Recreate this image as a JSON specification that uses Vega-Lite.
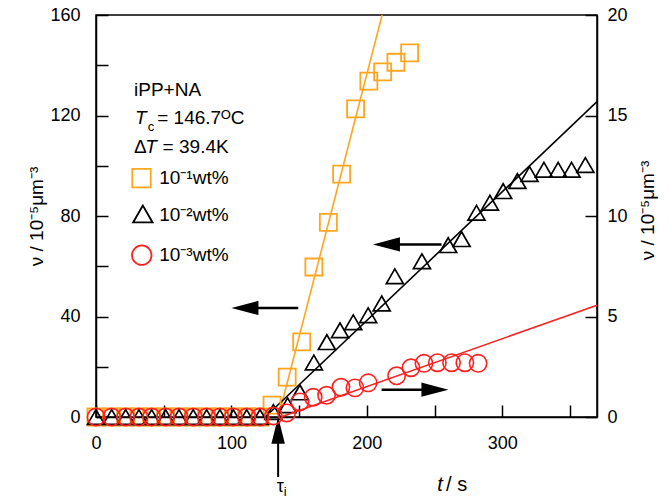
{
  "$schema": "https://vega.github.io/schema/vega-lite/v6.json",
  "width": 501,
  "height": 402,
  "autosize": {"type": "none"},
  "padding": {"left": 96, "top": 15, "right": 73, "bottom": 81},
  "config": {
    "font": "Liberation Sans",
    "view": {"stroke": "#000", "strokeWidth": 1.5},
    "axis": {
      "domainColor": "#000", "domainWidth": 1.5,
      "tickColor": "#000", "tickWidth": 1.5, "tickSize": -12,
      "labelColor": "#000", "labelFontSize": 18, "labelFont": "Liberation Sans",
      "labelFlush": false, "labelOverlap": false, "labelBound": false,
      "grid": false,
      "titleColor": "#000", "titleFont": "Liberation Sans", "titleFontSize": 19, "titleFontWeight": "normal"
    }
  },
  "encoding": {
    "x": {
      "field": "t", "type": "quantitative",
      "scale": {"domain": [0, 370], "nice": false, "zero": false},
      "axis": {
        "orient": "bottom",
        "values": [0, 50, 100, 150, 200, 250, 300, 350],
        "labelExpr": "datum.value % 100 === 0 ? datum.label : ''",
        "labelPadding": 29,
        "title": null
      }
    }
  },
  "layer": [
    {
      "encoding": {
        "y": {
          "field": "v", "type": "quantitative",
          "scale": {"domain": [0, 160], "nice": false, "zero": false},
          "axis": {
            "orient": "left",
            "values": [0, 20, 40, 60, 80, 100, 120, 140, 160],
            "labelExpr": "datum.value % 40 === 0 ? datum.label : ''",
            "labelPadding": 28,
            "title": "ν / 10⁻⁵μm⁻³",
            "titleX": -60, "titleY": 201, "titleAngle": -90,
            "titleAlign": "center", "titleBaseline": "middle"
          }
        }
      },
      "layer": [
        {
          "data": {"values": [{"t": 134.7, "v": 0}, {"t": 211.3, "v": 160}]},
          "mark": {"type": "line", "color": "#FFA51F", "strokeWidth": 1.6},
          "encoding": {}
        },
        {
          "data": {"values": [{"t": 125, "v": 0}, {"t": 370, "v": 125.5}]},
          "mark": {"type": "line", "color": "#000", "strokeWidth": 1.6},
          "encoding": {}
        },
        {
          "data": {"values": [
            {"t": 0, "v": 0}, {"t": 11.6, "v": 0}, {"t": 21.9, "v": 0}, {"t": 31.7, "v": 0}, {"t": 41.1, "v": 0},
            {"t": 51.4, "v": 0}, {"t": 61.3, "v": 0}, {"t": 71.8, "v": 0}, {"t": 81.7, "v": 0}, {"t": 91.5, "v": 0},
            {"t": 101.4, "v": 0}, {"t": 111.3, "v": 0}, {"t": 121.1, "v": 0},
            {"t": 130, "v": 4.7}, {"t": 141.2, "v": 15.9}, {"t": 151.9, "v": 29.9}, {"t": 160.9, "v": 59.7},
            {"t": 171.6, "v": 77.5}, {"t": 181.4, "v": 96.7}, {"t": 191.7, "v": 122.6}, {"t": 201.5, "v": 133.7},
            {"t": 211.7, "v": 137.4}, {"t": 221.5, "v": 141.2}, {"t": 231.6, "v": 144.9}
          ]},
          "mark": {"type": "point", "shape": "square", "filled": false, "color": "#FFA51F", "size": 289, "strokeWidth": 1.8, "opacity": 1}
        },
        {
          "data": {"values": [
            {"t": 0, "v": 0}, {"t": 11.6, "v": 0}, {"t": 21.9, "v": 0}, {"t": 31.7, "v": 0}, {"t": 41.1, "v": 0},
            {"t": 51.4, "v": 0}, {"t": 61.3, "v": 0}, {"t": 71.8, "v": 0}, {"t": 81.7, "v": 0}, {"t": 91.5, "v": 0},
            {"t": 101.4, "v": 0}, {"t": 111.3, "v": 0}, {"t": 121.1, "v": 0},
            {"t": 131, "v": 2.0}, {"t": 141.5, "v": 4.7}, {"t": 150.6, "v": 9.8}, {"t": 160.9, "v": 21.7},
            {"t": 170.5, "v": 29.8}, {"t": 180.2, "v": 34.5}, {"t": 190, "v": 37.7}, {"t": 201, "v": 40.5},
            {"t": 211, "v": 45.2}, {"t": 220.7, "v": 56}, {"t": 240.7, "v": 62}, {"t": 260.1, "v": 68.4},
            {"t": 270, "v": 70.8}, {"t": 281, "v": 81.3}, {"t": 290.9, "v": 85.3}, {"t": 300.7, "v": 89.9},
            {"t": 311.2, "v": 93.9}, {"t": 320.2, "v": 96.7}, {"t": 330.8, "v": 98.4}, {"t": 341.3, "v": 98.4},
            {"t": 351.2, "v": 98.4}, {"t": 361.4, "v": 100.3}
          ]},
          "mark": {"type": "point", "shape": "triangle-up", "filled": false, "color": "#000", "size": 289, "strokeWidth": 1.7, "opacity": 1}
        },
        {
          "data": {"values": [{"t": 110, "t2": 149.4, "v": 43.4}, {"t": 214.5, "t2": 255.2, "v": 68.7}]},
          "mark": {"type": "rule", "color": "#000", "strokeWidth": 2.5},
          "encoding": {"x2": {"field": "t2"}}
        },
        {
          "data": {"values": [{"t": 110, "v": 43.4}, {"t": 214.5, "v": 68.7}]},
          "mark": {"type": "point", "shape": "M-1,0L1,-0.53L1,0.53Z", "filled": true, "color": "#000", "size": 729, "opacity": 1, "strokeWidth": 0}
        },
        {
          "data": {"values": [{"t": 134.5, "v": -5.3, "v2": -23.9}]},
          "mark": {"type": "rule", "color": "#000", "strokeWidth": 2},
          "encoding": {"y2": {"field": "v2"}}
        },
        {
          "data": {"values": [{"t": 134.5, "v": -5.3}]},
          "mark": {"type": "point", "shape": "M0,-1L-0.5,1L0.5,1Z", "filled": true, "color": "#000", "size": 729, "opacity": 1, "strokeWidth": 0}
        },
        {
          "data": {"values": [{"t": 33.6, "v": 95.1}]},
          "mark": {"type": "point", "shape": "square", "filled": false, "color": "#FFA51F", "size": 340, "strokeWidth": 1.8, "opacity": 1}
        },
        {
          "data": {"values": [{"t": 34.6, "v": 80.8}]},
          "mark": {"type": "point", "shape": "triangle-up", "filled": false, "color": "#000", "size": 380, "strokeWidth": 1.8, "opacity": 1}
        },
        {
          "data": {"values": [{"t": 33.8, "v": 64.4}]},
          "mark": {"type": "point", "shape": "circle", "filled": false, "color": "#FF2020", "size": 380, "strokeWidth": 1.8, "opacity": 1}
        },
        {
          "data": {"values": [
            {"t": 28.1, "v": 130.1, "label": "iPP+NA"},
            {"t": 45.2, "v": 118.9, "label": "= 146.7ᴼC"},
            {"t": 28.1, "v": 107.4, "label": "Δ"},
            {"t": 49.2, "v": 107.4, "label": "= 39.4K"},
            {"t": 46.7, "v": 95.1, "label": "10⁻¹wt%"},
            {"t": 46.7, "v": 80.3, "label": "10⁻²wt%"},
            {"t": 46.7, "v": 64.4, "label": "10⁻³wt%"}
          ]},
          "mark": {"type": "text", "align": "left", "baseline": "middle", "fontSize": 19, "color": "#000"},
          "encoding": {"text": {"field": "label"}}
        },
        {
          "data": {"values": [{"t": 133.4, "v": -28, "label": "τ"}]},
          "mark": {"type": "text", "align": "left", "baseline": "middle", "fontSize": 18, "color": "#000"},
          "encoding": {"text": {"field": "label"}}
        },
        {
          "data": {"values": [
            {"t": 28.8, "v": 118.9, "label": "T"},
            {"t": 36.4, "v": 107.4, "label": "T"}
          ]},
          "mark": {"type": "text", "align": "left", "baseline": "middle", "fontSize": 19, "fontStyle": "italic", "color": "#000"},
          "encoding": {"text": {"field": "label"}}
        },
        {
          "data": {"values": [
            {"t": 38.3, "v": 115.6, "label": "c"},
            {"t": 138.6, "v": -30, "label": "i"}
          ]},
          "mark": {"type": "text", "align": "left", "baseline": "middle", "fontSize": 13, "color": "#000"},
          "encoding": {"text": {"field": "label"}}
        },
        {
          "data": {"values": [{"t": 254, "v": -27.2, "label": "t"}]},
          "mark": {"type": "text", "align": "center", "baseline": "middle", "fontSize": 20, "fontStyle": "italic", "color": "#000"},
          "encoding": {"text": {"field": "label"}}
        },
        {
          "data": {"values": [{"t": 258.5, "v": -27.2, "label": "/ s"}]},
          "mark": {"type": "text", "align": "left", "baseline": "middle", "fontSize": 20, "color": "#000"},
          "encoding": {"text": {"field": "label"}}
        }
      ]
    },
    {
      "encoding": {
        "y": {
          "field": "v", "type": "quantitative",
          "scale": {"domain": [0, 20], "nice": false, "zero": false},
          "axis": {
            "orient": "right",
            "values": [0, 5, 10, 15, 20],
            "labelPadding": 22,
            "title": "ν / 10⁻⁵μm⁻³",
            "titleX": 50, "titleY": 195, "titleAngle": -90,
            "titleAlign": "center", "titleBaseline": "middle"
          }
        }
      },
      "layer": [
        {
          "data": {"values": [{"t": 136.5, "v": 0}, {"t": 370, "v": 5.56}]},
          "mark": {"type": "line", "color": "#FF2020", "strokeWidth": 1.6},
          "encoding": {}
        },
        {
          "data": {"values": [
            {"t": 0, "v": 0}, {"t": 11.6, "v": 0}, {"t": 21.9, "v": 0}, {"t": 31.7, "v": 0}, {"t": 41.1, "v": 0},
            {"t": 51.4, "v": 0}, {"t": 61.3, "v": 0}, {"t": 71.8, "v": 0}, {"t": 81.7, "v": 0}, {"t": 91.5, "v": 0},
            {"t": 101.4, "v": 0}, {"t": 111.3, "v": 0}, {"t": 121.1, "v": 0},
            {"t": 131, "v": 0.05}, {"t": 140.8, "v": 0.2}, {"t": 150.6, "v": 0.75}, {"t": 160.4, "v": 0.98},
            {"t": 170.3, "v": 1.08}, {"t": 180.9, "v": 1.48}, {"t": 191.2, "v": 1.45}, {"t": 201, "v": 1.7},
            {"t": 222, "v": 2.05}, {"t": 232.6, "v": 2.45}, {"t": 242.2, "v": 2.67}, {"t": 252.1, "v": 2.7},
            {"t": 262.6, "v": 2.7}, {"t": 272.4, "v": 2.7}, {"t": 282.2, "v": 2.67}
          ]},
          "mark": {"type": "point", "shape": "circle", "filled": false, "color": "#FF2020", "size": 300, "strokeWidth": 1.6, "opacity": 1}
        },
        {
          "data": {"values": [{"t": 210.9, "t2": 250.3, "v": 1.36}]},
          "mark": {"type": "rule", "color": "#000", "strokeWidth": 2.5},
          "encoding": {"x2": {"field": "t2"}}
        },
        {
          "data": {"values": [{"t": 250.3, "v": 1.36}]},
          "mark": {"type": "point", "shape": "M1,0L-1,-0.53L-1,0.53Z", "filled": true, "color": "#000", "size": 729, "opacity": 1, "strokeWidth": 0}
        }
      ]
    }
  ],
  "resolve": {"scale": {"y": "independent"}}
}
